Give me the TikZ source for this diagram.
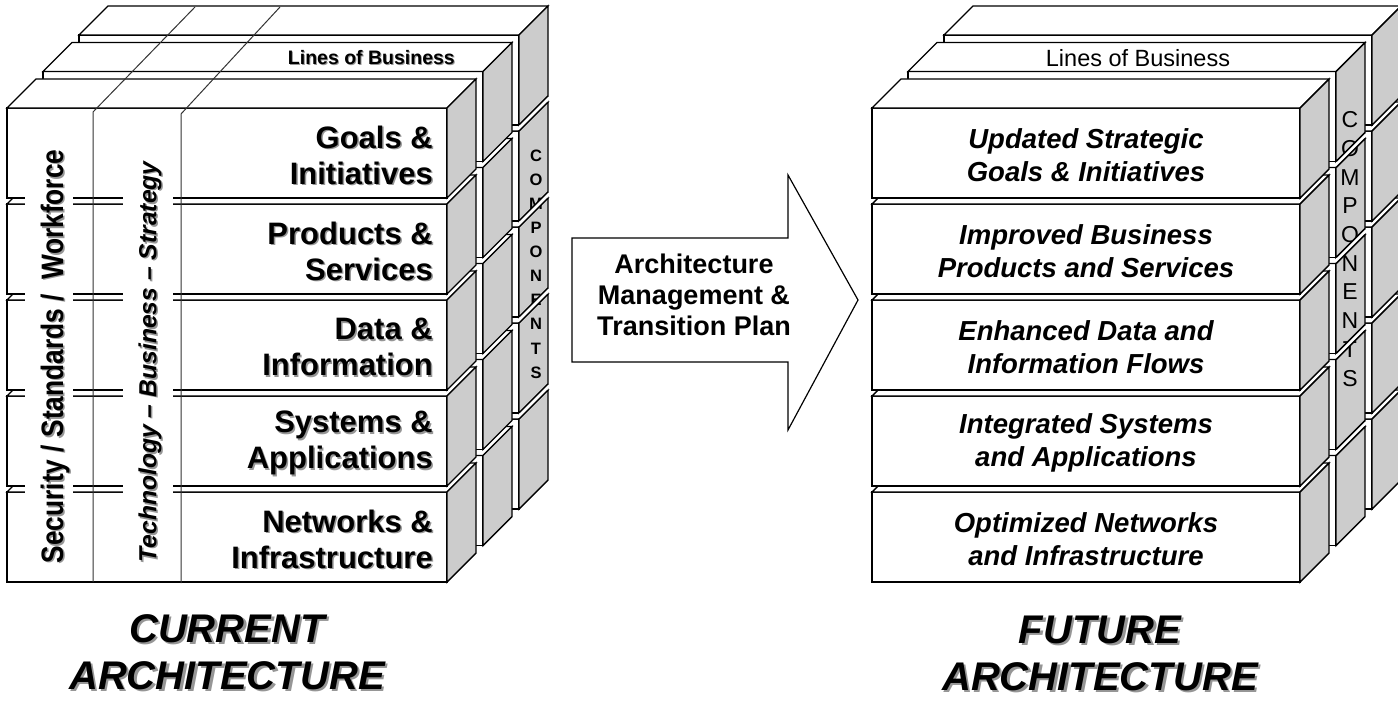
\documentclass[tikz,border=0pt]{standalone}
\usepackage{fontspec}
\usepackage{graphicx}
\setmainfont{Liberation Sans}
\definecolor{sidegray}{RGB}{204,204,204}
\definecolor{shadowgray}{RGB}{150,150,150}
\tikzset{
  slabline/.style={draw=black, line width=1.4pt, line join=miter},
  colline/.style={draw=black!80, line width=1pt},
  bigleft/.style={font=\bfseries\fontsize{31}{36}\selectfont, align=right, anchor=east, inner sep=0pt},
  bigright/.style={font=\bfseries\itshape\fontsize{27.5}{33}\selectfont, align=center, inner sep=0pt},
  vertlabel/.style={rotate=90, inner sep=0pt},
  arrowshape/.style={draw=black, line width=1.2pt, fill=white, line join=miter},
  bottomlabel/.style={font=\bfseries\itshape\fontsize{40}{47}\selectfont, align=center, inner sep=0pt},
}
\newcommand{\slabbox}[3]{%
  \draw[slabline, fill=white] (#1,#2) rectangle ({#1+#3},{#2+90});
  \draw[slabline, fill=white] (#1,#2) -- ({#1+29},{#2-29}) -- ({#1+#3+29},{#2-29}) -- ({#1+#3},{#2}) -- cycle;
  \draw[slabline, fill=sidegray] ({#1+#3},{#2}) -- ({#1+#3+29},{#2-29}) -- ({#1+#3+29},{#2+61}) -- ({#1+#3},{#2+90}) -- cycle;
}
\newcommand{\slablayer}[3]{%
  \foreach \k in {4,3,2,1,0}{%
    \pgfmathsetmacro{\slabtop}{#2+96*\k}%
    \slabbox{#1}{\slabtop}{#3}%
  }%
}
\newcommand{\gapsliver}[2]{%
  \fill[white] (#1,#2) -- ({#1+29},{#2-29}) -- ({#1+29},{#2-35}) -- (#1,{#2-6}) -- cycle;
  \draw[slabline] (#1,#2) -- ({#1+29},{#2-29});
  \draw[slabline] (#1,{#2-6}) -- ({#1+29},{#2-35});
}
\newcommand{\leftlabel}[3]{%
  \node[bigleft, text=shadowgray] at (434.5,{#2+1.5}) {#3};
  \node[bigleft] (#1) at (433,#2) {#3};
}
\newcommand{\sectext}{\scalebox{0.85}[1]{Security / Standards /~~Workforce}}
\begin{document}
\begin{tikzpicture}[x=1pt,y=-1pt]
\useasboundingbox (0,0) rectangle (1398,701);
\clip (0,0) rectangle (1398,701);

% ---------------- LEFT CUBE ----------------
\slablayer{79}{35}{440}
\node[font=\bfseries\fontsize{16.5}{24.1}\selectfont, align=center, inner sep=0pt] (lcomp) at (536,264) {C\\O\\M\\P\\O\\N\\E\\N\\T\\S};
\foreach \g in {131,227,323,419}{\gapsliver{519}{\g}}
\slablayer{43}{71.5}{440}
\node[font=\bfseries\fontsize{19.5}{23}\selectfont, text=shadowgray, anchor=east, inner sep=0pt] at (456,59) {Lines of Business};
\node[font=\bfseries\fontsize{19.5}{23}\selectfont, anchor=east, inner sep=0pt] (llob) at (455,58) {Lines of Business};
\slablayer{7}{108}{440}

\draw[colline] (93,582) -- (93,112) -- (195,7);
\draw[colline] (181,583) -- (181,114) -- (280,7);

% white bands behind the column texts
\fill[white] (25,140) rectangle (73,572);
\fill[white] (123,140) rectangle (173,572);

\node[vertlabel, text=shadowgray, font=\bfseries\fontsize{31}{34}\selectfont] at (56.5,358) {\sectext};
\node[vertlabel, font=\bfseries\fontsize{31}{34}\selectfont] (sec) at (55,356.5) {\sectext};
\node[vertlabel, text=shadowgray, font=\bfseries\itshape\fontsize{24.7}{30}\selectfont] at (151.5,363.5) {Technology -- Business -- Strategy};
\node[vertlabel, font=\bfseries\itshape\fontsize{24.7}{30}\selectfont] (tech) at (150,362) {Technology -- Business -- Strategy};

\leftlabel{goals}{155}{Goals \&\\Initiatives}
\leftlabel{prod}{251}{Products \&\\Services}
\leftlabel{data}{347}{Data \&\\Information}
\leftlabel{sys}{443}{Systems \&\\Applications}
\leftlabel{net}{539}{Networks \&\\Infrastructure}

% ---------------- ARROW ----------------
\draw[arrowshape] (572,238) -- (788,238) -- (788,175) -- (858,300) -- (788,430) -- (788,362) -- (572,362) -- cycle;
\node[font=\bfseries\fontsize{27}{31}\selectfont, align=center, inner sep=0pt] (plan) at (694,295) {Architecture\\Management \&\\Transition Plan};

% ---------------- RIGHT CUBE ----------------
\slablayer{944}{35}{428}
\slablayer{908}{71.5}{428}
\node[font=\fontsize{23}{28.7}\selectfont, align=center, inner sep=0pt] (rcomp) at (1350,249) {C\\O\\M\\P\\O\\N\\E\\N\\T\\S};
\foreach \g in {167.5,263.5,359.5,455.5}{\gapsliver{1336}{\g}}
\node[font=\fontsize{23.5}{28}\selectfont, inner sep=0pt] (rlob) at (1138,58) {Lines of Business};
\slablayer{872}{108}{428}

\node[bigright] (ugoals) at (1086,155) {Updated Strategic\\Goals \& Initiatives};
\node[bigright] (uprod) at (1086,251) {Improved Business\\Products and Services};
\node[bigright] (udata) at (1086,347) {Enhanced Data and\\Information Flows};
\node[bigright] (usys) at (1086,443) {Integrated Systems\\and Applications};
\node[bigright] (unet) at (1086,539) {Optimized Networks\\and Infrastructure};

% ---------------- BOTTOM LABELS ----------------
\node[bottomlabel, text=shadowgray] at (229.5,654.5) {CURRENT\\ARCHITECTURE};
\node[bottomlabel] (cur) at (227,652) {CURRENT\\ARCHITECTURE};
\node[bottomlabel, text=shadowgray] at (1102.5,655.5) {FUTURE\\ARCHITECTURE};
\node[bottomlabel] (fut) at (1100,653) {FUTURE\\ARCHITECTURE};
\end{tikzpicture}
\end{document}
